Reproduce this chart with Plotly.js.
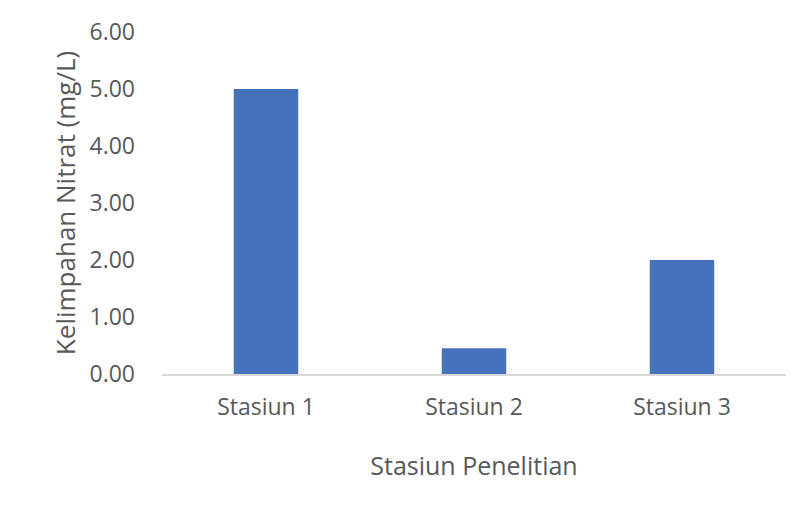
<!DOCTYPE html>
<html>
<head>
<meta charset="utf-8">
<script src="https://cdn.plot.ly/plotly-3.0.1.min.js"></script>
<style>html,body{margin:0;padding:0;background:#fff;}#chart{width:811px;height:529px;}</style>
</head>
<body>
<div id="chart"></div>
<script>
const categories = ["Stasiun 1", "Stasiun 2", "Stasiun 3"];
const nitrateValues = [5.00, 0.45, 2.00];
const yTickValues = [0, 1, 2, 3, 4, 5, 6];
const yTickLabels = ["0.00", "1.00", "2.00", "3.00", "4.00", "5.00", "6.00"];

const fontFamily = "'Open Sans', 'Noto Sans', sans-serif";
const textColor = "#595959";

Plotly.newPlot("chart", [{
  type: "bar",
  x: categories,
  y: nitrateValues,
  marker: {color: "#4672BD"},
  hoverinfo: "x+y"
}], {
  width: 811,
  height: 529,
  margin: {l: 162, r: 25, t: 32, b: 155},
  paper_bgcolor: "#ffffff",
  plot_bgcolor: "#ffffff",
  bargap: 0.69,
  showlegend: false,
  font: {family: fontFamily, color: textColor, size: 23},
  xaxis: {
    type: "category",
    showline: true,
    linecolor: "#d9d9d9",
    linewidth: 1.5,
    showgrid: false,
    zeroline: false,
    ticks: "",
    ticklabelstandoff: 12,
    tickfont: {family: fontFamily, color: textColor, size: 23},
    title: {text: "Stasiun Penelitian", font: {family: fontFamily, color: textColor, size: 25}, standoff: 36}
  },
  yaxis: {
    range: [0, 6],
    tickmode: "array",
    tickvals: yTickValues,
    ticktext: yTickLabels,
    showline: false,
    showgrid: false,
    zeroline: false,
    ticks: "",
    ticklabelstandoff: 26,
    tickfont: {family: fontFamily, color: textColor, size: 23},
    title: {text: "Kelimpahan Nitrat (mg/L)", font: {family: fontFamily, color: textColor, size: 26}, standoff: 6}
  }
}, {displayModeBar: false, staticPlot: true});
</script>
</body>
</html>
